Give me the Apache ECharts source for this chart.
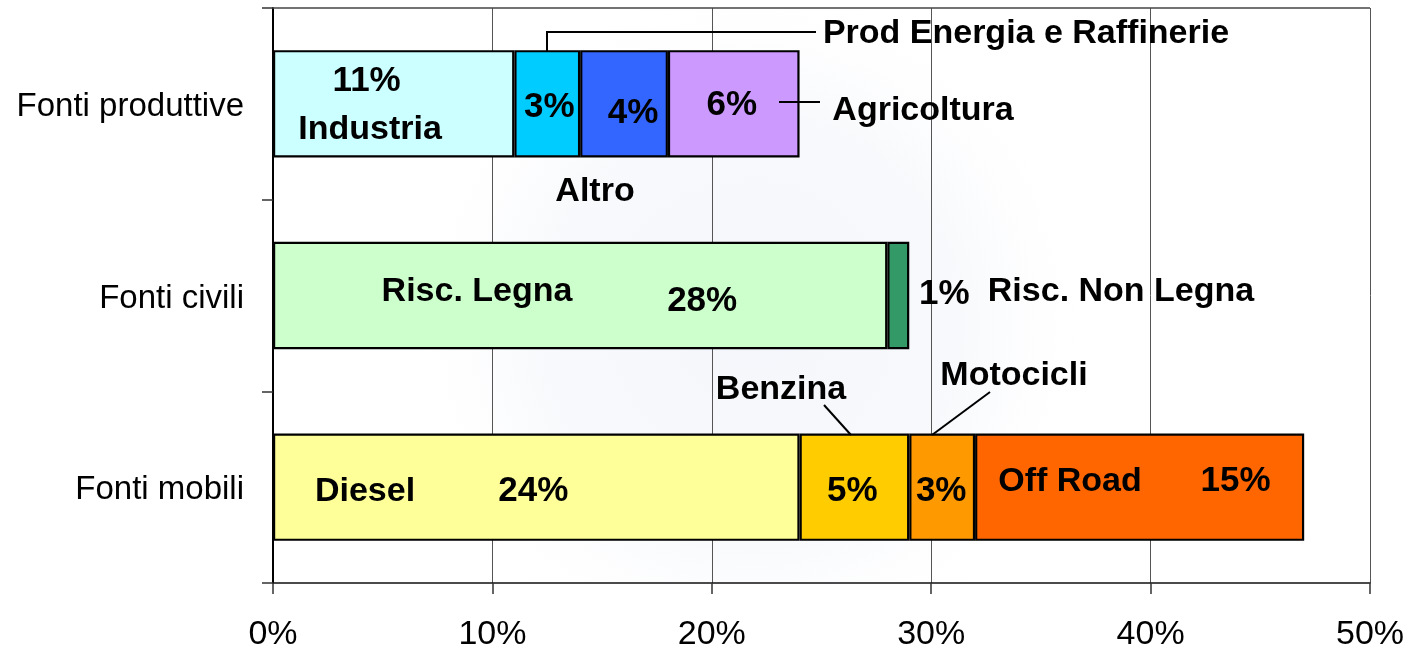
<!DOCTYPE html>
<html><head><meta charset="utf-8">
<style>html,body{margin:0;padding:0;background:#fff}#c{width:1408px;height:646px}</style>
<script src="https://cdn.jsdelivr.net/npm/echarts@6/dist/echarts.min.js"></script>
</head><body><div id="c"></div>
<script>
const categories = ['Fonti produttive','Fonti civili','Fonti mobili'];
const tickLabels = [0,10,20,30,40,50];
const industria = [11,null,null];
const prodEnergia = [3,null,null];
const altro = [4,null,null];
const agricoltura = [6,null,null];
const riscLegna = [null,28,null];
const riscNonLegna = [null,1,null];
const diesel = [null,null,24];
const benzina = [null,null,5];
const motocicli = [null,null,3];
const offRoad = [null,null,15];

const FONT = '"Liberation Sans", Arial, sans-serif';
function seg(name, data, color, offset){
  return {name, type:'bar', stack:'t', data, barWidth:'56%',
    itemStyle:{color, borderColor:'#000', borderWidth:2.2},
    label:{show:true, position:'inside', offset, formatter:'{c}%', color:'#000',
      fontFamily:FONT, fontWeight:'bold', fontSize:35}};
}
const chart = echarts.init(document.getElementById('c'), null, {renderer:'canvas'});
function txt(text,x,y){return {type:'text',z:50,style:{text,x,y,fill:'#000',align:'center',verticalAlign:'middle',
  font:'bold 34px '+FONT}};}
function line(p){return {type:'polyline',z:50,shape:{points:p},style:{stroke:'#000',lineWidth:2,fill:null}};}
chart.setOption({
  animation:false,
  backgroundColor:'#fff',
  grid:{left:273,right:38,top:8,bottom:63,containLabel:false,show:false,outerBoundsMode:'none'},
  xAxis:{type:'value',min:0,max:50,interval:10,
    axisLine:{show:true,lineStyle:{color:'#111',width:1.5}},
    axisTick:{show:true,length:11,lineStyle:{color:'#333',width:1.5}},
    axisLabel:{fontFamily:FONT,fontSize:34,color:'#000',margin:35,
      formatter:v=>v+'%',customValues:tickLabels},
    splitLine:{show:true,lineStyle:{color:'#555',width:1}}},
  yAxis:{type:'category',inverse:true,data:categories,
    axisLine:{show:true,lineStyle:{color:'#000',width:2}},
    axisTick:{show:true,length:11,alignWithLabel:false,lineStyle:{color:'#333',width:1.5}},
    axisLabel:{fontFamily:FONT,fontSize:33,color:'#000',margin:29,padding:[0,0,0,0],
      formatter:v=>'{a|'+v+'}',rich:{a:{fontFamily:FONT,fontSize:33,color:'#000',lineHeight:33,padding:[6,0,0,0]}}}},
  series:[
    seg('Industria',industria,'#ccffff',[-27,-22]),
    seg('Prod Energia e Raffinerie',prodEnergia,'#00ccff',[2,4]),
    seg('Altro',altro,'#3366ff',[9,10]),
    seg('Agricoltura',agricoltura,'#cc99ff',[-2,2]),
    seg('Risc. Legna',riscLegna,'#ccffcc',[122,6]),
    seg('Risc. Non Legna',riscNonLegna,'#339966',[46,-1]),
    seg('Diesel',diesel,'#ffff99',[-3,4]),
    seg('Benzina',benzina,'#ffcc00',[-2,4]),
    seg('Motocicli',motocicli,'#ff9900',[-1,4]),
    seg('Off Road',offRoad,'#ff6600',[96,-6])
  ],
  graphic:[
    {type:'rect',z:-1,silent:true,shape:{x:400,y:8,width:700,height:575},
      style:{fill:new echarts.graphic.RadialGradient(.5,.55,.62,[{offset:0,color:'rgba(244,246,251,1)'},{offset:.6,color:'rgba(246,248,251,.8)'},{offset:1,color:'rgba(255,255,255,0)'}])}},
    {type:'line',z:1,silent:true,shape:{x1:273,y1:8,x2:1370,y2:8},style:{stroke:'#444',lineWidth:1.5}},
    txt('Industria',370,130),
    txt('Altro',595,192),
    txt('Prod Energia e Raffinerie',1026,34),
    txt('Agricoltura',923,111),
    txt('Risc. Legna',477,292),
    txt('Risc. Non Legna',1121,292),
    txt('Benzina',781,390),
    txt('Motocicli',1014,376),
    txt('Diesel',365,492),
    txt('Off Road',1070,482),
    line([[547,51],[547,32],[816,32]]),
    line([[779,102],[820,102]]),
    line([[851,435],[824,405]]),
    line([[932,435],[990,392]])
  ]
});
</script></body></html>
